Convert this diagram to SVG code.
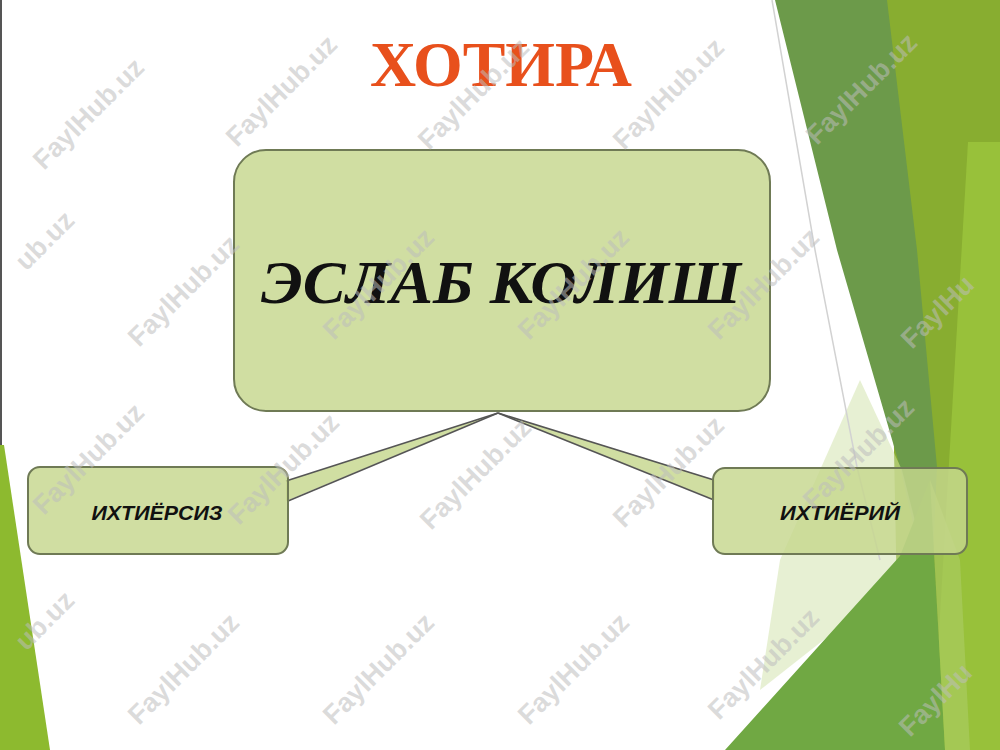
<svg xmlns="http://www.w3.org/2000/svg" width="1000" height="750" viewBox="0 0 1000 750">
<style>
.box{fill:#c6d78e;fill-opacity:0.82;stroke:#6f7a55;stroke-width:2}
.wedge{fill:#c6d78e;fill-opacity:0.82;stroke:none}
.wline{stroke:#555;stroke-width:1.6;fill:none}
.main{font-family:"Liberation Serif","Times New Roman",serif;font-weight:bold;font-style:italic;font-size:62px;fill:#111}
.lbl{font-family:"Liberation Sans",Arial,sans-serif;font-weight:bold;font-style:italic;font-size:21px;fill:#111}
.title{font-family:"Liberation Serif","Times New Roman",serif;font-weight:bold;font-size:63px;fill:#e8501c}
.wm{font-family:"Liberation Sans",Arial,sans-serif;font-weight:bold;font-size:27px;fill:#bdbdbd;fill-opacity:0.55}
</style>
<rect x="0" y="0" width="1000" height="750" fill="#ffffff"/>
<g id="background">
  <line x1="1" y1="0" x2="1" y2="450" stroke="#555" stroke-width="2"/>
  <polygon points="0,445 4,445 50,750 0,750" fill="#8dba2f"/>
  <polygon points="885,0 1000,0 1000,750 900,750" fill="#88ad30"/>
  <polygon points="968,142 1000,142 1000,750 932,750" fill="#98c13a"/>
  <polygon points="775,0 887,0 917,250 937,467 931,600 900,467 837,250" fill="#6c9a4a"/>
  <polygon points="860,380 902,470 925,560 760,690 780,560" fill="#cfe2a8" fill-opacity="0.5"/>
  <polygon points="725,750 900,556 930,480 945,750" fill="#70a843"/>
  <polygon points="930,480 960,560 970,750 945,750" fill="#a9cb60" fill-opacity="0.7"/>
  <polyline points="772,0 815,250 857,467 880,560" stroke="#d2d2d2" stroke-width="1.5" fill="none"/>
</g>
<text id="title" class="title" x="501" y="86" text-anchor="middle" textLength="262" lengthAdjust="spacingAndGlyphs">ХОТИРА</text>
<g id="connectors">
  <polygon class="wedge" points="286,481 498,413 286,501"/>
  <line class="wline" x1="286" y1="481" x2="498" y2="413"/>
  <line class="wline" x1="288" y1="501" x2="498" y2="413"/>
  <polygon class="wedge" points="715,480 498,413 715,500"/>
  <line class="wline" x1="714" y1="480" x2="498" y2="413"/>
  <line class="wline" x1="714" y1="500" x2="498" y2="413"/>
</g>
<g id="node-main">
  <rect class="box" x="234" y="150" width="536" height="261" rx="32"/>
  <text class="main" x="501" y="303" text-anchor="middle" textLength="480" lengthAdjust="spacingAndGlyphs">ЭСЛАБ КОЛИШ</text>
</g>
<g id="node-left">
  <rect class="box" x="28" y="467" width="260" height="87" rx="12"/>
  <text class="lbl" x="157" y="520" text-anchor="middle" textLength="131" lengthAdjust="spacingAndGlyphs">ИХТИЁРСИЗ</text>
</g>
<g id="node-right">
  <rect class="box" x="713" y="468" width="254" height="86" rx="12"/>
  <text class="lbl" x="840" y="520" text-anchor="middle" textLength="120" lengthAdjust="spacingAndGlyphs">ИХТИЁРИЙ</text>
</g>
<g id="watermarks">
  <text class="wm" transform="translate(95,120) rotate(-45)" text-anchor="middle">FaylHub.uz</text>
  <text class="wm" transform="translate(288,97) rotate(-45)" text-anchor="middle">FaylHub.uz</text>
  <text class="wm" transform="translate(480,100) rotate(-45)" text-anchor="middle">FaylHub.uz</text>
  <text class="wm" transform="translate(675,100) rotate(-45)" text-anchor="middle">FaylHub.uz</text>
  <text class="wm" transform="translate(868,95) rotate(-45)" text-anchor="middle">FaylHub.uz</text>
  <text class="wm" transform="translate(76,222) rotate(-45)" text-anchor="end">ub.uz</text>
  <text class="wm" transform="translate(190,297) rotate(-45)" text-anchor="middle">FaylHub.uz</text>
  <text class="wm" transform="translate(385,290) rotate(-45)" text-anchor="middle">FaylHub.uz</text>
  <text class="wm" transform="translate(580,290) rotate(-45)" text-anchor="middle">FaylHub.uz</text>
  <text class="wm" transform="translate(770,290) rotate(-45)" text-anchor="middle">FaylHub.uz</text>
  <text class="wm" transform="translate(912,350) rotate(-45)" text-anchor="start">FaylHu</text>
  <text class="wm" transform="translate(95,465) rotate(-45)" text-anchor="middle">FaylHub.uz</text>
  <text class="wm" transform="translate(290,475) rotate(-45)" text-anchor="middle">FaylHub.uz</text>
  <text class="wm" transform="translate(482,480) rotate(-45)" text-anchor="middle">FaylHub.uz</text>
  <text class="wm" transform="translate(675,478) rotate(-45)" text-anchor="middle">FaylHub.uz</text>
  <text class="wm" transform="translate(865,460) rotate(-45)" text-anchor="middle">FaylHub.uz</text>
  <text class="wm" transform="translate(76,602) rotate(-45)" text-anchor="end">ub.uz</text>
  <text class="wm" transform="translate(190,675) rotate(-45)" text-anchor="middle">FaylHub.uz</text>
  <text class="wm" transform="translate(385,675) rotate(-45)" text-anchor="middle">FaylHub.uz</text>
  <text class="wm" transform="translate(580,675) rotate(-45)" text-anchor="middle">FaylHub.uz</text>
  <text class="wm" transform="translate(770,670) rotate(-45)" text-anchor="middle">FaylHub.uz</text>
  <text class="wm" transform="translate(910,738) rotate(-45)" text-anchor="start">FaylHu</text>
</g>
</svg>
